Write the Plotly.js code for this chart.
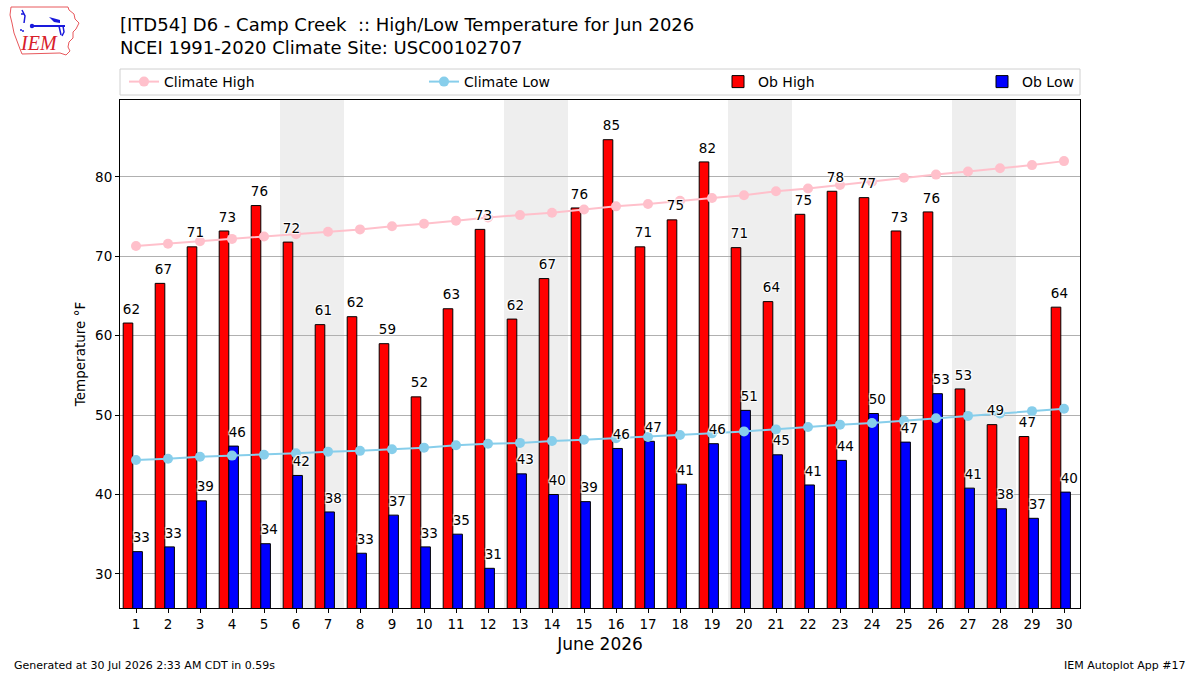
<!DOCTYPE html>
<html>
<head>
<meta charset="utf-8">
<script src="https://cdn.plot.ly/plotly-3.0.1.min.js"></script>
<style>html,body{margin:0;padding:0;background:#fff;}#chart{width:1200px;height:675px;}</style>
</head>
<body>
<div id="chart"></div>
<script>
// ---- data ----
const days = [1,2,3,4,5,6,7,8,9,10,11,12,13,14,15,16,17,18,19,20,21,22,23,24,25,26,27,28,29,30];
const obHigh = [61.6,66.6,71.2,73.2,76.4,71.8,61.4,62.4,59.0,52.3,63.4,73.4,62.1,67.2,76.1,84.7,71.2,74.6,81.9,71.1,64.3,75.3,78.2,77.4,73.2,75.6,53.3,48.8,47.3,63.6];
const obLow = [32.8,33.4,39.2,46.1,33.8,42.4,37.8,32.6,37.4,33.4,35.0,30.7,42.6,40.0,39.1,45.8,46.7,41.3,46.4,50.6,45.0,41.2,44.3,50.2,46.6,52.7,40.8,38.2,37.0,40.3];
const climHigh = [71.3,71.6,71.9,72.2,72.5,72.8,73.1,73.4,73.8,74.1,74.5,74.9,75.2,75.5,75.9,76.3,76.6,77.0,77.35,77.7,78.2,78.55,79.0,79.4,79.9,80.3,80.7,81.1,81.5,82.0];
const climLow = [44.35,44.5,44.75,44.9,45.0,45.2,45.4,45.5,45.7,45.9,46.2,46.4,46.5,46.75,46.9,47.1,47.25,47.5,47.7,47.95,48.2,48.5,48.8,49.0,49.3,49.6,49.9,50.2,50.5,50.8];
const year = 2026, monthIndex = 5; // June
const titleLine1 = "[ITD54] D6 - Camp Creek\u00a0\u00a0:: High/Low Temperature for Jun 2026";
const titleLine2 = "NCEI 1991-2020 Climate Site: USC00102707";
const xTitle = "June 2026";
const yTitle = "Temperature °F";
const footerLeft = "Generated at 30 Jul 2026 2:33 AM CDT in 0.59s";
const footerRight = "IEM Autoplot App #17";

const FONT = "DejaVu Sans, Verdana, sans-serif";
const shadow = "1px 1px 1px #fff, -1px -1px 1px #fff, 1px -1px 1px #fff, -1px 1px 1px #fff";

// weekend shading computed from the calendar
const shapes = [];
days.forEach(d => {
  const dow = new Date(year, monthIndex, d).getDay();
  if (dow === 6) {
    shapes.push({type:'rect', xref:'x', yref:'paper', x0:d-0.5, x1:d+1.5, y0:0, y1:1,
      fillcolor:'#eeeeee', line:{width:0}, layer:'below'});
  }
});
// legend frame
shapes.push({type:'rect', xref:'paper', yref:'paper', x0:0, x1:1, y0:(608-95)/508, y1:(608-69)/508,
  line:{color:'#d0d0d0', width:1}, fillcolor:'rgba(255,255,255,0.8)', layer:'above'});

const yMin = Math.min(...obLow) - 5, yMax = Math.max(...obHigh) + 5;

const labelTrace = (xs, ys) => ({type:'scatter', mode:'markers+text', x:xs, y:ys,
  text:ys.map(v=>String(Math.round(v))), textposition:'top right',
  marker:{size:8, color:'rgba(0,0,0,0)'},
  textfont:{family:FONT, size:13.5, color:'#000', shadow:shadow}, showlegend:false, hoverinfo:'skip'});

const traces = [
  {type:'bar', x:days, y:obHigh, name:'Ob High', width:0.3, offset:-0.4,
   marker:{color:'#ff0000', line:{color:'#000', width:1}}, legend:'legend3', hoverinfo:'skip'},
  {type:'bar', x:days, y:obLow, name:'Ob Low', width:0.3, offset:-0.1,
   marker:{color:'#0000ff', line:{color:'#000', width:1}}, legend:'legend4', hoverinfo:'skip'},
  {type:'scatter', mode:'lines+markers', x:days, y:climHigh, name:'Climate High',
   line:{color:'#ffc0cb', width:2}, marker:{color:'#ffc0cb', size:10}, legend:'legend'},
  {type:'scatter', mode:'lines+markers', x:days, y:climLow, name:'Climate Low',
   line:{color:'#87ceeb', width:2}, marker:{color:'#87ceeb', size:10}, legend:'legend2'},
  labelTrace(days.map(d=>d-0.60), obHigh),
  labelTrace(days.map(d=>d-0.29), obLow)
];

const legBase = {orientation:'h', yref:'paper', y:(608-82)/508, yanchor:'middle', xanchor:'left',
  bgcolor:'rgba(0,0,0,0)', borderwidth:0, font:{family:FONT, size:14, color:'#000'}};
const px = p => (p-120)/960;

const layout = {
  width:1200, height:675,
  margin:{l:120, r:120, t:100, b:67},
  paper_bgcolor:'#fff', plot_bgcolor:'rgba(0,0,0,0)',
  font:{family:FONT, color:'#000'},
  barmode:'overlay',
  title:{text:titleLine1 + '<br>' + titleLine2, xref:'container', yref:'container',
    x:0.1, xanchor:'left', y:1-31/675, yanchor:'middle', font:{family:FONT, size:18, color:'#000'}},
  xaxis:{range:[0.5,30.5], tickmode:'array', tickvals:days, ticktext:days.map(String),
    ticks:'outside', ticklen:4, tickcolor:'#000', showgrid:false, zeroline:false,
    showline:true, mirror:true, linecolor:'#000', linewidth:1,
    tickfont:{family:FONT, size:13.5, color:'#000'},
    title:{text:xTitle, font:{family:FONT, size:17, color:'#000'}, standoff:6}},
  yaxis:{range:[yMin,yMax], tick0:30, dtick:10, ticks:'outside', ticklen:4, tickcolor:'#000',
    showgrid:true, gridcolor:'#b0b0b0', gridwidth:1, zeroline:false,
    showline:true, mirror:true, linecolor:'#000', linewidth:1,
    tickfont:{family:FONT, size:13.5, color:'#000'},
    title:{text:yTitle, font:{family:FONT, size:13.5, color:'#000'}, standoff:6}},
  shapes:shapes,
  legend:Object.assign({}, legBase, {x:px(124)}),
  legend2:Object.assign({}, legBase, {x:px(424)}),
  legend3:Object.assign({}, legBase, {x:px(718)}),
  legend4:Object.assign({}, legBase, {x:px(982)}),
  annotations:[
    {text:footerLeft, xref:'paper', yref:'paper', x:px(12), y:(608-665)/508, xanchor:'left', yanchor:'middle',
     showarrow:false, font:{family:FONT, size:11, color:'#000'}},
    {text:footerRight, xref:'paper', yref:'paper', x:px(1188), y:(608-665)/508, xanchor:'right', yanchor:'middle',
     showarrow:false, font:{family:FONT, size:11, color:'#000'}}
  ],
  images:[]
};

// IEM logo (vector, inline)
const logoSvg = "<svg xmlns='http://www.w3.org/2000/svg' width='72' height='52' viewBox='0 0 72 52'>" +
  "<path d='M3 2 L60 2 L61 5 L66 9 L67 14 L71 18 L68 24 L65 27 L65 33 L61 37 L60 42 L62 46 L58 50 L52 48 L14 49 L12 44 L9 36 L6 28 L4 18 L2 10 Z' fill='#fff' stroke='#e8585c' stroke-width='1'/>" +
  "<text x='13' y='45' font-family='Liberation Serif, serif' font-style='italic' font-size='20' fill='#d8202a'>IEM</text>" +
  "<path d='M14 5 L17 11 L16 18 M13 9 L16 9' stroke='#1a1adc' stroke-width='1.5' fill='none'/>" +
  "<circle cx='24' cy='21' r='2.2' fill='#1a1adc'/>" +
  "<path d='M24 21 L57 21' stroke='#1a1adc' stroke-width='2' fill='none'/>" +
  "<path d='M41 12 L52 15 L52 18 L46 17 Z' fill='#1a1adc'/>" +
  "<path d='M51 21 L53 30 M55 21 L56 27 L54 31' stroke='#1a1adc' stroke-width='1.5' fill='none'/>" +
  "<circle cx='13' cy='25' r='1' fill='#1a1adc'/><circle cx='15' cy='26' r='1' fill='#1a1adc'/>" +
  "</svg>";
layout.images.push({source:'data:image/svg+xml;charset=utf-8,' + encodeURIComponent(logoSvg),
  xref:'paper', yref:'paper', x:px(8), y:(608-5)/508, sizex:72/960, sizey:52/508,
  xanchor:'left', yanchor:'top', sizing:'stretch', layer:'above'});

Plotly.newPlot('chart', traces, layout, {staticPlot:true, displayModeBar:false});
</script>
</body>
</html>
